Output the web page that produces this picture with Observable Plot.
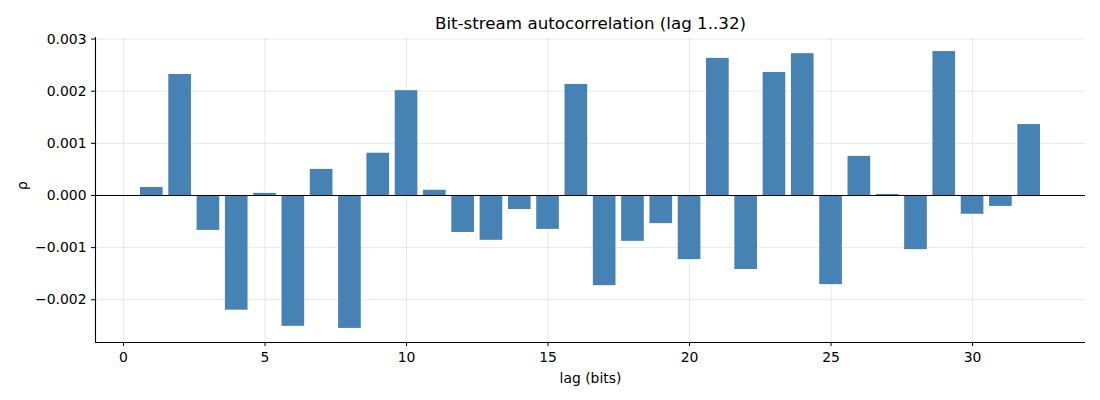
<!DOCTYPE html>
<html>
<head>
<meta charset="utf-8">
<script src="https://cdn.jsdelivr.net/npm/d3@7"></script>
<script src="https://cdn.jsdelivr.net/npm/@observablehq/plot@0.6"></script>
<style>
  html, body { margin: 0; padding: 0; background: #fff; }
</style>
</head>
<body>
<div id="chart"></div>
<script>
const lags = [1,2,3,4,5,6,7,8,9,10,11,12,13,14,15,16,17,18,19,20,21,22,23,24,25,26,27,28,29,30,31,32];
const rho = [0.000153, 0.00232, -0.00067, -0.00220, 0.00004, -0.00251, 0.00050, -0.00255,
             0.00081, 0.00201, 0.00010, -0.00071, -0.00086, -0.00027, -0.00065, 0.00213,
             -0.00173, -0.00088, -0.00054, -0.00123, 0.00263, -0.00142, 0.00236, 0.00272,
             -0.00171, 0.00075, 0.00002, -0.00104, 0.00276, -0.00036, -0.00021, 0.00136];
const xTicks = [0, 5, 10, 15, 20, 25, 30];
const yTicks = [-0.002, -0.001, 0, 0.001, 0.002, 0.003];
const titleText = "Bit-stream autocorrelation (lag 1..32)";
const xLabel = "lag (bits)";
const yLabel = "ρ";
const barWidth = 0.8;
const xDomain = [-0.99, 33.99];
const yDomain = [-0.00282, 0.00303];

const data = lags.map((lag, i) => ({lag, rho: rho[i]}));
const font = "'DejaVu Sans', sans-serif";

const chart = Plot.plot({
  width: 1100,
  height: 400,
  marginLeft: 95,
  marginRight: 15,
  marginTop: 37,
  marginBottom: 58,
  style: {fontFamily: font, fontSize: "13.9px", color: "#000", background: "#fff"},
  x: {domain: xDomain, label: null},
  y: {domain: yDomain, label: null},
  marks: [
    Plot.gridX(xTicks, {stroke: "#b0b0b0", strokeOpacity: 0.35, strokeWidth: 0.8}),
    Plot.gridY(yTicks, {stroke: "#b0b0b0", strokeOpacity: 0.35, strokeWidth: 0.8}),
    Plot.rectY(data, {
      x1: d => d.lag - barWidth / 2,
      x2: d => d.lag + barWidth / 2,
      y1: 0,
      y2: "rho",
      fill: "#4682b4"
    }),
    Plot.ruleY([0], {stroke: "#000", strokeWidth: 1}),
    Plot.ruleX([xDomain[0]], {stroke: "#000", strokeWidth: 1.1}),
    Plot.ruleY([yDomain[0]], {stroke: "#000", strokeWidth: 1.1}),
    Plot.axisX({ticks: xTicks, tickSize: 4, tickPadding: 6, tickFormat: d3.format("d"), label: null, fontSize: 13.9}),
    Plot.axisY({ticks: yTicks, tickSize: 4, tickPadding: 5, tickFormat: d3.format(".3f"), label: null, fontSize: 13.9}),
    Plot.text([titleText], {frameAnchor: "top", dy: -9, lineAnchor: "bottom", fontSize: 16.7, fill: "#000"}),
    Plot.text([xLabel], {frameAnchor: "bottom", dy: 40, lineAnchor: "bottom", fontSize: 13.9, fill: "#000"}),
    Plot.text([yLabel], {frameAnchor: "left", dx: -73, rotate: -90, fontSize: 13.9, fill: "#000"})
  ]
});
document.getElementById("chart").appendChild(chart);
</script>
</body>
</html>
